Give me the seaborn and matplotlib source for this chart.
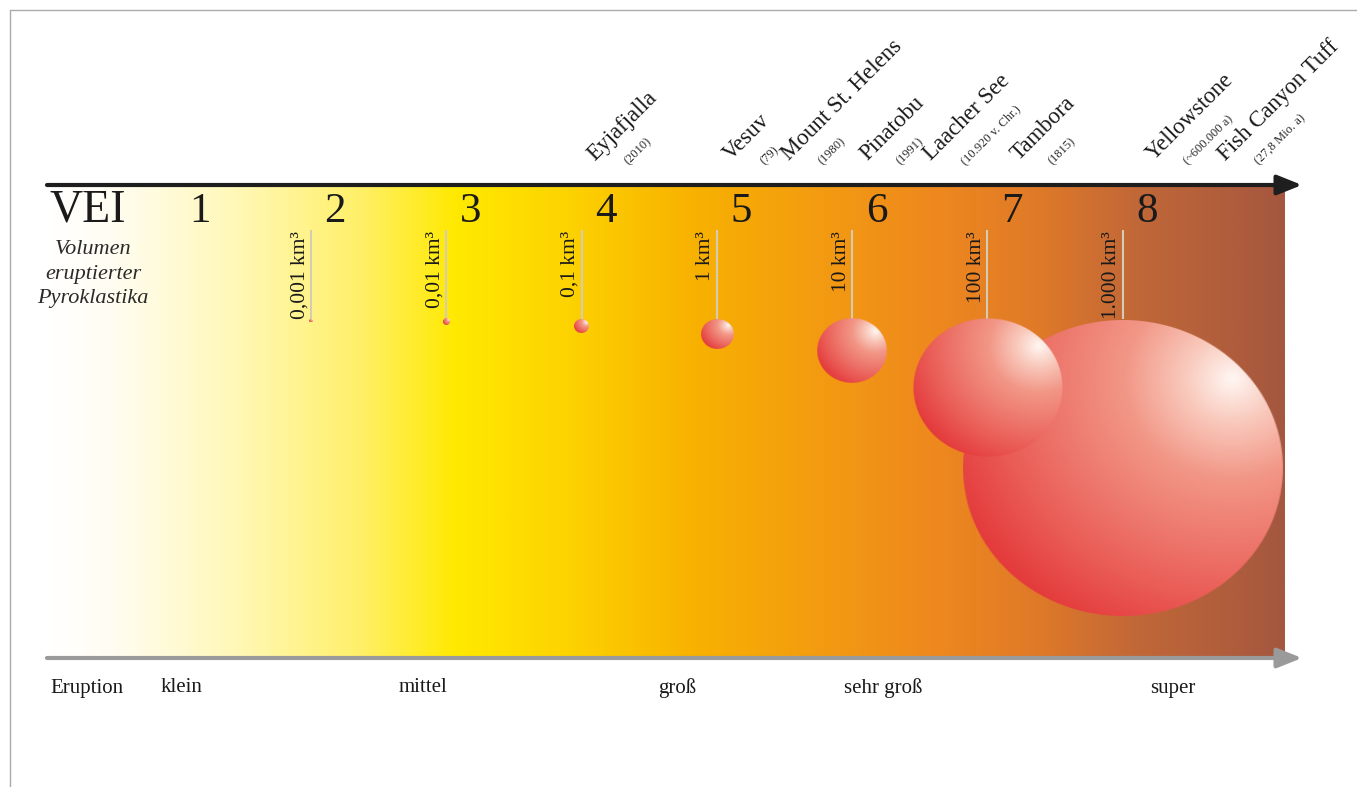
import numpy as np
import pandas as pd
import matplotlib
matplotlib.use("Agg")
import matplotlib.pyplot as plt
from matplotlib.colors import LinearSegmentedColormap
from matplotlib.patches import ArrowStyle
from matplotlib.lines import Line2D
import seaborn as sns

# ---------------- data ----------------
vei_levels = [1, 2, 3, 4, 5, 6, 7, 8]
volume_vei = [2, 3, 4, 5, 6, 7, 8]
volumes = [0.001, 0.01, 0.1, 1, 10, 100, 1000]  # km3
volume_labels = ['0,001 km³', '0,01 km³', '0,1 km³', '1 km³', '10 km³', '100 km³', '1.000 km³']
volcanoes = ['Eyjafjalla', 'Vesuv', 'Mount St. Helens', 'Pinatobu',
             'Laacher See', 'Tambora', 'Yellowstone', 'Fish Canyon Tuff']
volcano_years = ['(2010)', '(79)', '(1980)', '(1991)', '(10.920 v. Chr.)',
                 '(1815)', '(~600.000 a)', '(27,8 Mio. a)']
eruption_classes = ['klein', 'mittel', 'groß', 'sehr groß', 'super']

# ---------------- layout (VEI units on x, pixel rows on y) ----------------
volcano_pos = [3.92, 4.92, 5.35, 5.93, 6.40, 7.05, 8.05, 8.58]
class_pos = [0.86, 2.65, 4.53, 6.05, 8.19]
PX = 135.3                      # pixels per VEI step
X0 = 200 - PX                   # pixel of VEI 0
def vx(px):
    return (px - X0) / PX

spheres = pd.DataFrame({'vei': volume_vei, 'volume': volumes, 'label': volume_labels})
spheres['x'] = spheres['vei'] - 0.18
spheres['ry'] = 14.9 * np.cbrt(spheres['volume'])
spheres['rx'] = spheres['ry'] * 1.08 / PX
spheres['cy'] = 319 + spheres['ry']

sns.set_theme(style='white')
plt.rcParams['font.family'] = ['Liberation Serif', 'DejaVu Serif']
INK = '#1A1A1A'

fig = plt.figure(figsize=(13.57, 7.87), dpi=100)
ax = fig.add_axes([0, 0, 1, 1])
ax.set_axis_off()

# background gradient
bg = LinearSegmentedColormap.from_list('vei', [
    (0.00, '#FFFFFF'), (0.05, '#FFFDF2'), (0.15, '#FFF8B8'), (0.25, '#FFF06A'),
    (0.33, '#FFE900'), (0.42, '#FDD300'), (0.52, '#F8B200'), (0.63, '#F39A12'),
    (0.72, '#EE881E'), (0.80, '#E07A28'), (0.88, '#C26838'), (1.00, '#A5573F')])
left, right = vx(47), vx(1285)
ax.imshow(np.linspace(0, 1, 600)[None, :], cmap=bg, aspect='auto',
          extent=(left, right, 657, 185), zorder=0, interpolation='bilinear')

# arrows
head = ArrowStyle('-|>', head_length=0.75, head_width=0.3)
ax.annotate('', xy=(vx(1302), 185), xytext=(left, 185),
            arrowprops=dict(arrowstyle=head, mutation_scale=20, lw=3, color='#1E1E1E',
                            shrinkA=0, shrinkB=0), zorder=5)
ax.annotate('', xy=(vx(1302), 658), xytext=(left, 658),
            arrowprops=dict(arrowstyle=head, mutation_scale=20, lw=3, color='#9A9A9A',
                            shrinkA=0, shrinkB=0), zorder=5)

# VEI numbers
ax.text(vx(50), 222, 'VEI', fontsize=33, ha='left', va='baseline', color=INK)
for v in vei_levels:
    ax.text(v, 222, str(v), fontsize=31, ha='center', va='baseline', color=INK)
for yy, line in zip([249, 274, 299], ['Volumen', 'eruptierter', 'Pyroklastika']):
    ax.text(vx(93), yy, line, fontsize=16, style='italic', ha='center', va='center', color='#2A2A2A')

# stems, labels, spheres
ball = LinearSegmentedColormap.from_list('ball', [
    (0.00, '#FFF6F2'), (0.15, '#F9CABD'), (0.35, '#F29787'), (0.55, '#EE7C70'),
    (0.78, '#EA5C56'), (1.00, '#E43A3C')])
n = 300
u = np.linspace(-1, 1, n)[None, :]
w = np.linspace(1, -1, n)[:, None]
r = np.sqrt(u ** 2 + w ** 2)
t = np.clip(np.sqrt((u - 0.68) ** 2 + (w - 0.6) ** 2) / 1.9, 0, 1)
rgba = ball(t)
rgba[..., 3] = np.clip((1 - r) * n / 2, 0, 1)

for _, s in spheres.iterrows():
    ax.vlines(s['x'], 230, s['cy'] - s['ry'], color='#D5CCB8', lw=1.5, zorder=2)
    ax.text(s['x'] - 1.5 / PX, 231, s['label'], fontsize=15.5, rotation=90,
            rotation_mode='anchor', ha='right', va='bottom', color=INK, zorder=3)
for _, s in spheres.iloc[::-1].iterrows():
    ax.imshow(rgba, extent=(s['x'] - s['rx'], s['x'] + s['rx'], s['cy'] + s['ry'], s['cy'] - s['ry']),
              aspect='auto', interpolation='bilinear', zorder=4)

# volcano names
for pos, name, year in zip(volcano_pos, volcanoes, volcano_years):
    ax.text(pos, 161, name, fontsize=16.5, rotation=45, rotation_mode='anchor',
            ha='left', va='baseline', color=INK)
    ax.text(pos + 34 / PX, 165, year, fontsize=9, rotation=45, rotation_mode='anchor',
            ha='left', va='baseline', color='#2A2A2A')

# eruption classes
ax.text(vx(50), 688, 'Eruption', fontsize=15, ha='left', va='center', color=INK)
for pos, lab in zip(class_pos, eruption_classes):
    ax.text(pos, 688, lab, fontsize=15, ha='center', va='center', color=INK)

ax.set_xlim(vx(0), vx(1357))
ax.set_ylim(787, 0)

# thin frame
fig.add_artist(Line2D([10 / 1357, 1], [1 - 10 / 787] * 2, color='#AAAAAA', lw=1))
fig.add_artist(Line2D([10 / 1357] * 2, [0, 1 - 10 / 787], color='#AAAAAA', lw=1))

fig.savefig('out.png', dpi=100, facecolor='white')
